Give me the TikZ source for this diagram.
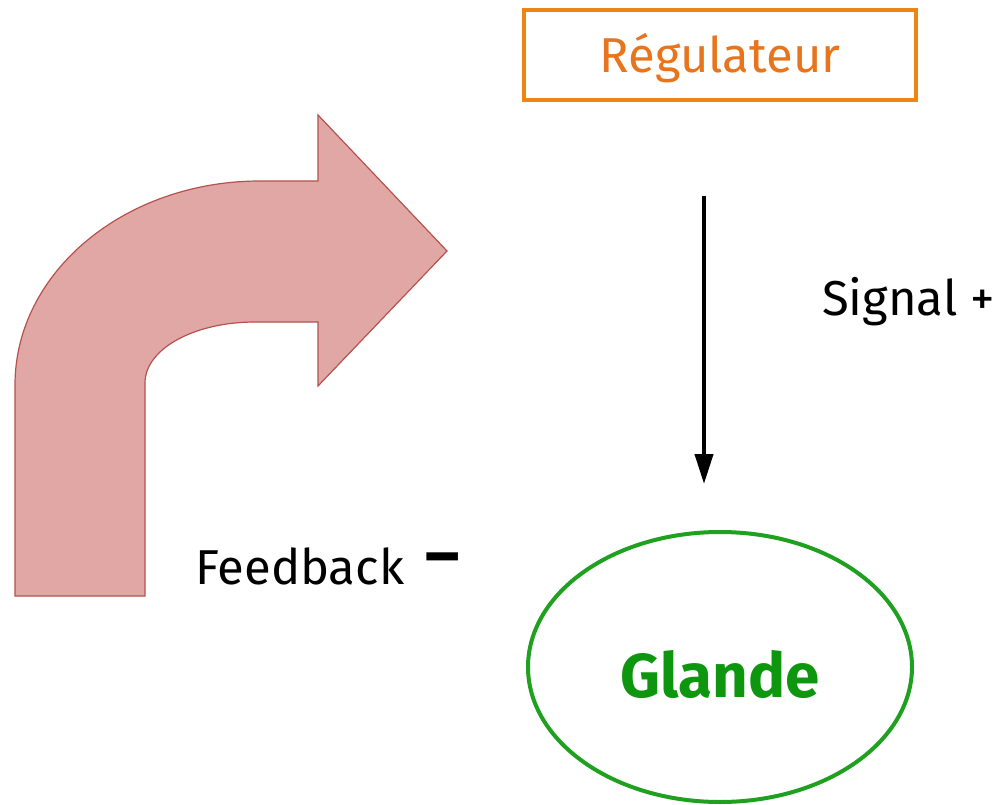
\documentclass[tikz,border=0pt]{standalone}
\usepackage{fontspec}
\setmainfont{Fira Sans}
\usetikzlibrary{arrows.meta,shapes.geometric}
\definecolor{regorange}{HTML}{EE8512}
\definecolor{regtext}{HTML}{E8741C}
\definecolor{glgreen}{HTML}{1FA01F}
\definecolor{gltext}{HTML}{0E960E}
\definecolor{bentfill}{HTML}{E1A7A5}
\definecolor{bentline}{HTML}{B5524D}
\tikzset{
  label text/.style={font=\fontsize{49}{55}\selectfont, inner sep=0pt},
  regbox/.style={draw=regorange, line width=4pt, minimum width=392pt, minimum height=90pt, text=regtext, font=\fontsize{49}{55}\selectfont, text depth=4pt},
  glandnode/.style={ellipse, draw=glgreen, line width=4pt, minimum width=384pt, minimum height=270pt},
  signal arrow/.style={line width=4pt, -{Triangle[width=18pt,length=30pt]}},
  bent arrow/.style={fill=bentfill, draw=bentline, line width=1.2pt, line join=miter}
}
\begin{document}
\begin{tikzpicture}[x=1pt,y=-1pt]
  \useasboundingbox (0,0) rectangle (996,805);
  % controller box
  \node[regbox] (reg) at (720,55) {Régulateur};
  % gland
  \node[glandnode] (gland) at (720,667) {};
  \node[text=gltext, font=\fontsize{62}{68}\selectfont\bfseries] (glandtxt) at (720,674) {Glande};
  % positive signal from the controller to the gland
  \coordinate (sigstart) at (704,196);
  \coordinate (sigend) at (704,484);
  \draw[signal arrow] (sigstart) -- (sigend);
  \node[label text, anchor=west] (signal) at (822,302) {Signal +};
  % negative feedback
  \node[label text, anchor=west] (feedback) at (195,566) {Feedback};
  \node[font=\fontsize{66}{66}\selectfont\bfseries, inner sep=0pt] (minus) at (443,565) {–};
  % bent feedback arrow
  \draw[bent arrow]
    (15,596) -- (15,385)
    .. controls (15,272) and (125,181) .. (260,181)
    -- (318,181) -- (318,115) -- (447,251) -- (318,386) -- (318,322)
    -- (255,322)
    .. controls (194,322) and (145,349) .. (145,383)
    -- (145,596) -- cycle;
\end{tikzpicture}
\end{document}
